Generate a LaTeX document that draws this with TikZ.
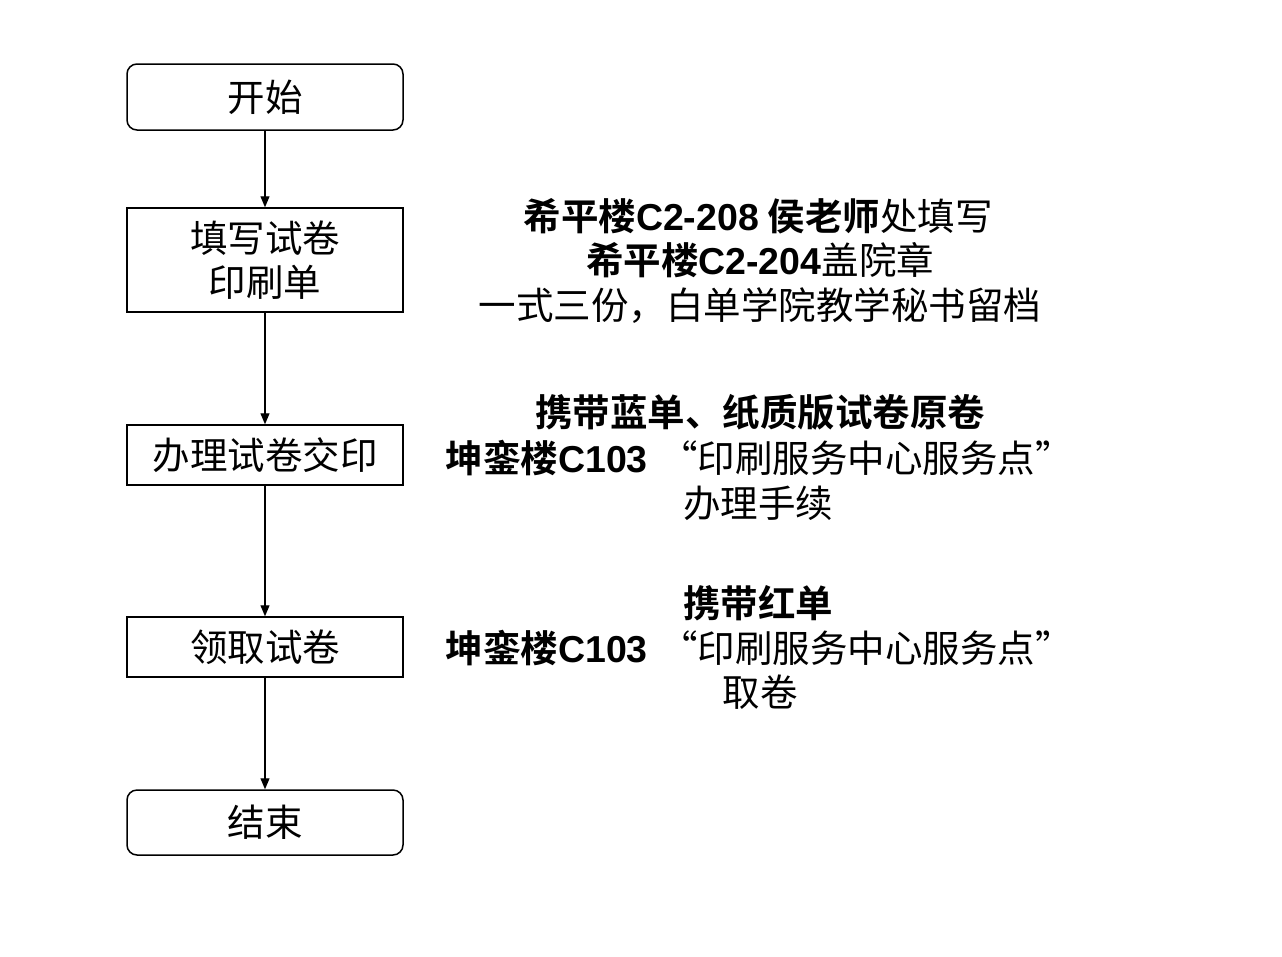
\documentclass[tikz,border=0pt]{standalone}
\usepackage{fontspec}
\setmainfont{Noto Sans CJK SC}[BoldFont={Noto Sans CJK SC Bold}]
\newfontfamily\lat{Liberation Sans}
\usetikzlibrary{arrows.meta}
\begin{document}
\begin{tikzpicture}[x=1pt,y=-1pt,
  txt/.style={font=\fontsize{37.5}{44}\selectfont, inner sep=0pt, text height=32pt, text depth=4pt},
  boxbase/.style={draw, line width=1.5pt, minimum width=276pt, inner sep=0pt, align=center,
    font=\fontsize{37.5}{44}\selectfont},
  termbox/.style={boxbase, rounded corners=10pt},
  procbox/.style={boxbase},
  flow/.style={line width=1.2pt, -{Triangle[length=11pt,width=9pt]}}
]
\useasboundingbox[fill=white] (0,0) rectangle (1282,956);

\node[termbox, minimum height=66pt] (start) at (265,97) {开始};
\node[procbox, minimum height=104pt] (fill) at (265,260) {填写试卷\\印刷单};
\node[procbox, minimum height=60pt] (hand) at (265,455) {办理试卷交印};
\node[procbox, minimum height=60pt] (get) at (265,647) {领取试卷};
\node[termbox, minimum height=65pt] (end) at (265,822.5) {结束};

\draw[flow] (start) -- (fill);
\draw[flow] (fill) -- (hand);
\draw[flow] (hand) -- (get);
\draw[flow] (get) -- (end);

% notes for step 2
\node[txt] (n1a) at (758,216) {\textbf{希平楼{\lat C2-208} 侯老师}处填写};
\node[txt] (n1b) at (760,260) {\textbf{希平楼{\lat C2-204}}盖院章};
\node[txt] (n1c) at (760,305) {一式三份，白单学院教学秘书留档};

% notes for step 3
\node[txt] (n2a) at (760,412) {\textbf{携带蓝单、纸质版试卷原卷}};
\node[txt, anchor=east] (n2b) at (648,458) {\textbf{坤銮楼{\lat C103}}};
\node[txt, anchor=west] (n2c) at (660,458) {“印刷服务中心服务点”};
\node[txt] (n2d) at (758,503) {办理手续};

% notes for step 4
\node[txt] (n3a) at (758,603) {\textbf{携带红单}};
\node[txt, anchor=east] (n3b) at (648,648) {\textbf{坤銮楼{\lat C103}}};
\node[txt, anchor=west] (n3c) at (660,648) {“印刷服务中心服务点”};
\node[txt] (n3d) at (760,692) {取卷};
\end{tikzpicture}
\end{document}
